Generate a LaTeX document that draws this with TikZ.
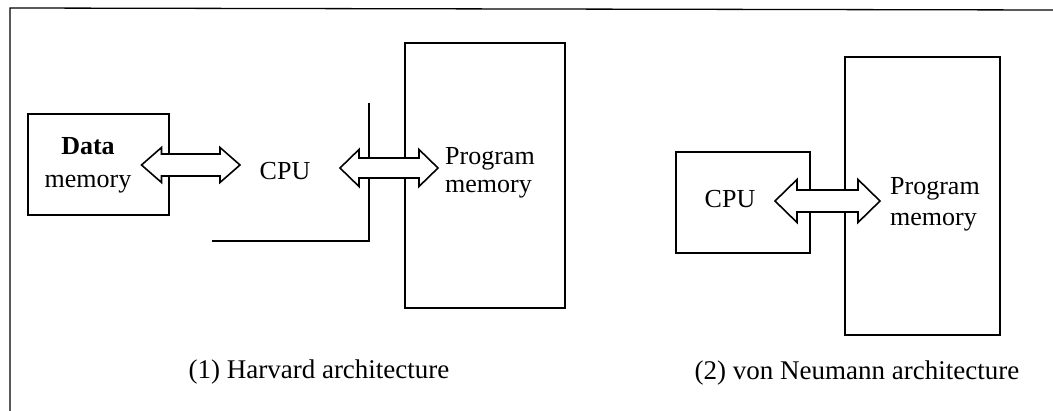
\documentclass[tikz,border=0pt]{standalone}
\usepackage{fontspec}
\setmainfont{Liberation Serif}
\usetikzlibrary{calc}

\tikzset{
  box/.style={draw=black, line width=1.8pt},
  bus/.style={draw=black, line width=1.5pt},
  frame/.style={draw=black, line width=1.3pt},
  busarrow/.style={draw=black, fill=white, line width=1.6pt, line join=miter},
  lbl/.style={inner sep=0pt, font=\fontsize{26}{30}\selectfont},
  captiontext/.style={inner sep=0pt, font=\fontsize{27}{32}\selectfont},
}

% wide double-headed bus arrow between two tip coordinates
% #1 left tip, #2 right tip, #3 head length, #4 head half-height, #5 shaft half-height
\newcommand{\busarrowpath}[5]{%
  \draw[busarrow] (#1) -- ($(#1)+(#3,-#4)$) -- ($(#1)+(#3,-#5)$)
    -- ($(#2)+(-#3,-#5)$) -- ($(#2)+(-#3,-#4)$) -- (#2)
    -- ($(#2)+(-#3,#4)$) -- ($(#2)+(-#3,#5)$)
    -- ($(#1)+(#3,#5)$) -- ($(#1)+(#3,#4)$) -- cycle;
}

\begin{document}
\begin{tikzpicture}[x=1pt, y=-1pt]
  \useasboundingbox (0,0) rectangle (1053,411);
  \fill[white] (0,0) rectangle (1053,411);

  % outer frame
  \coordinate (frTR) at (1053,10);
  \coordinate (frTL) at (10,8);
  \coordinate (frBL) at (10,411);
  \draw[frame] (frTR) -- (frTL) -- (frBL);

  % ---------- (1) Harvard architecture ----------
  \draw[box] (28,114) rectangle (169,215);
  \node[lbl, anchor=base, font=\fontsize{26}{30}\selectfont\bfseries] (dmA) at (88,155) {Data};
  \node[lbl, anchor=base] (dmB) at (88,188) {memory};

  \node[lbl, anchor=base] (cpuH) at (285,180) {CPU};

  % bus lines around the CPU
  \coordinate (busTop) at (369,103);
  \coordinate (busCorner) at (369,241);
  \coordinate (busEnd) at (212,241);
  \draw[bus] (busTop) -- (busCorner) -- (busEnd);

  \draw[box] (405,43) rectangle (565,308);
  \node[lbl, anchor=base west] (pmHA) at (445,165) {Program};
  \node[lbl, anchor=base west] (pmHB) at (445,193) {memory};

  \coordinate (a1L) at (141.5,165);
  \coordinate (a1R) at (240,165);
  \busarrowpath{a1L}{a1R}{20}{17.5}{11}

  \coordinate (a2L) at (340,168);
  \coordinate (a2R) at (438,168);
  \busarrowpath{a2L}{a2R}{19}{18.5}{10}

  \node[captiontext, anchor=base] (capH) at (319,379) {(1) Harvard architecture};

  % ---------- (2) von Neumann architecture ----------
  \draw[box] (676,152) rectangle (810,253);
  \node[lbl, anchor=base] (cpuN) at (730,208) {CPU};

  \draw[box] (845,57) rectangle (1000,335);
  \node[lbl, anchor=base west] (pmNA) at (890,195) {Program};
  \node[lbl, anchor=base west] (pmNB) at (890,226) {memory};

  \coordinate (a3L) at (775,201);
  \coordinate (a3R) at (880,201);
  \busarrowpath{a3L}{a3R}{22}{21.5}{11}

  \node[captiontext, anchor=base] (capN) at (857,380) {(2) von Neumann architecture};
\end{tikzpicture}
\end{document}
